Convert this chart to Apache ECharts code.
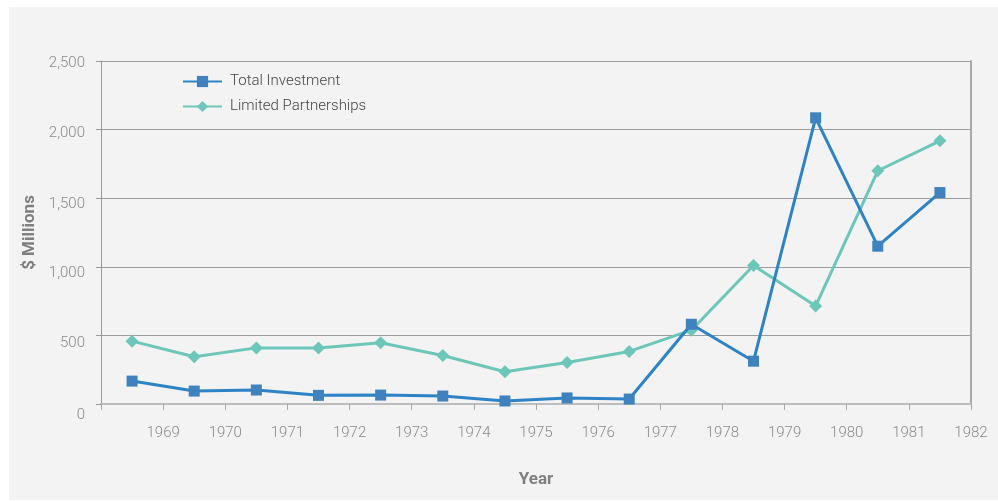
<!DOCTYPE html>
<html>
<head>
<meta charset="utf-8">
<script src="https://cdn.jsdelivr.net/npm/echarts@6/dist/echarts.min.js"></script>
<style>
  html, body { margin: 0; padding: 0; background: #ffffff; }
  #bg { position: absolute; left: 9px; top: 7px; width: 989px; height: 493px; background: #f3f3f3; }
  #chart { position: absolute; left: 0; top: 0; width: 998px; height: 501px; }
</style>
</head>
<body>
<div id="bg"></div>
<div id="chart"></div>
<script>
// Data
const years = [1968, 1969, 1970, 1971, 1972, 1973, 1974, 1975, 1976, 1977, 1978, 1979, 1980, 1981];
const totalInvestment = [167, 94, 102, 63, 65, 58, 22, 44, 36, 581, 312, 2086, 1150, 1541];
const limitedPartnerships = [458, 344, 409, 409, 446, 354, 235, 303, 383, 538, 1010, 714, 1700, 1918];
const seriesNames = ['Total Investment', 'Limited Partnerships'];
const yTicks = [0, 500, 1000, 1500, 2000, 2500];
const xTickLabels = ['1969', '1970', '1971', '1972', '1973', '1974', '1975', '1976', '1977', '1978', '1979', '1980', '1981', '1982'];

const fontFam = 'Roboto, "Liberation Sans", sans-serif';
const chart = echarts.init(document.getElementById('chart'), null, { renderer: 'canvas' });

function pts(vals) { return years.map((y, i) => [y + 0.5, vals[i]]); }

// label vertical nudges (pixels below gridline) as seen in the reference
const yLabelNudge = [11, 8, 6, 6, 4, 2];
const labelBase = { fontFamily: fontFam, fontSize: 15, fontWeight: 300, color: '#8a8a8a' };
const yRich = {};
yLabelNudge.forEach((n, i) => { yRich['r' + i] = Object.assign({}, labelBase, { padding: [n * 2, 0, 0, 0] }); });

chart.setOption({
  animation: false,
  backgroundColor: 'transparent',
  grid: { left: 101, right: 27, top: 61, bottom: 97, containLabel: false },
  legend: {
    orient: 'vertical',
    left: 177,
    top: 69,
    itemWidth: 39,
    itemHeight: 14,
    itemGap: 10,
    data: seriesNames,
    textStyle: { fontFamily: fontFam, fontSize: 15, color: '#454545', fontWeight: 300, padding: [0, 0, 0, 3] }
  },
  xAxis: {
    type: 'value',
    min: 1968,
    max: 1982,
    interval: 1,
    name: 'Year',
    nameLocation: 'middle',
    nameGap: 67,
    nameTextStyle: { fontFamily: fontFam, fontSize: 17, fontWeight: 'bold', color: '#7f7f7f' },
    axisLine: { show: true, onZero: false, lineStyle: { color: '#bdbdbd', width: 2 } },
    axisTick: { show: true, length: 6, lineStyle: { color: '#a8a8a8', width: 1 } },
    axisLabel: Object.assign({
      margin: 22,
      formatter: function (v) { const s = String(Math.round(v)); return xTickLabels.indexOf(s) >= 0 ? s : ''; }
    }, labelBase),
    splitLine: { show: false }
  },
  yAxis: [{
    type: 'value',
    min: 0,
    max: 2500,
    interval: 500,
    name: '$ Millions',
    nameLocation: 'middle',
    nameGap: 61,
    nameTextStyle: { fontFamily: fontFam, fontSize: 17, fontWeight: 'bold', color: '#7f7f7f' },
    axisLine: { show: true, lineStyle: { color: '#9a9a9a', width: 1 } },
    axisTick: { show: true, length: 5, lineStyle: { color: '#9a9a9a' } },
    axisLabel: Object.assign({
      margin: 16,
      rich: yRich,
      formatter: function (v) {
        const i = yTicks.indexOf(v);
        return i >= 0 ? '{r' + i + '|' + v.toLocaleString('en-US') + '}' : '';
      }
    }, labelBase),
    splitLine: { show: true, lineStyle: { color: '#9c9c9c', width: 1 } }
  }, {
    type: 'value',
    position: 'right',
    min: 0,
    max: 2500,
    interval: 500,
    axisLine: { show: true, lineStyle: { color: '#a8a8a8', width: 2 } },
    axisTick: { show: false },
    axisLabel: { show: false },
    splitLine: { show: false }
  }],
  series: [{
    name: seriesNames[0],
    type: 'line',
    data: pts(totalInvestment),
    symbol: 'rect',
    symbolSize: 11,
    itemStyle: { color: '#3f82bd' },
    lineStyle: { color: '#2d83c6', width: 3 },
    z: 3
  }, {
    name: seriesNames[1],
    type: 'line',
    data: pts(limitedPartnerships),
    symbol: 'diamond',
    symbolSize: 13,
    itemStyle: { color: '#6cc6b9' },
    lineStyle: { color: '#6cc6b9', width: 3 },
    z: 2
  }]
});
</script>
</body>
</html>
